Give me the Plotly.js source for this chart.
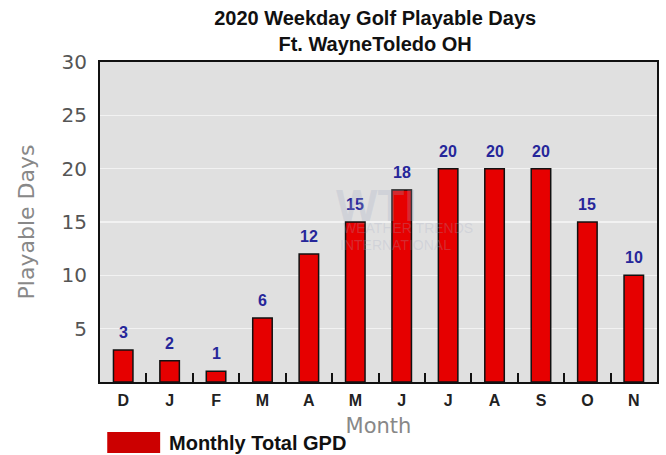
<!DOCTYPE html>
<html>
<head>
<meta charset="utf-8">
<script src="https://cdn.plot.ly/plotly-3.0.1.min.js"></script>
<style>html,body{margin:0;padding:0;background:#fff;}#chart{width:666px;height:455px;}</style>
</head>
<body>
<div id="chart"></div>
<script>
const months = ['Dec','Jan','Feb','Mar','Apr','May','Jun','Jul','Aug','Sep','Oct','Nov'];
const monthLabels = ['D','J','F','M','A','M','J','J','A','S','O','N'];
const playableDays = [3, 2, 1, 6, 12, 15, 18, 20, 20, 20, 15, 10];
const yTicks = [5, 10, 15, 20, 25, 30];
const seriesName = 'Monthly Total GPD';

const trace = {
  type: 'bar',
  x: months,
  y: playableDays,
  name: seriesName,
  width: 0.42,
  marker: {color: '#e60000', line: {color: '#111', width: 1.5}},
  hoverinfo: 'x+y',
  showlegend: false
};

const valueLabels = months.map((m, i) => ({
  x: m, y: playableDays[i], xref: 'x', yref: 'y',
  text: '<b>' + playableDays[i] + '</b>', showarrow: false,
  yanchor: 'bottom', yshift: 7,
  font: {family: 'Liberation Sans, Arial, sans-serif', size: 16, color: '#26269a'}
}));

const wmColor = 'rgba(160,170,195,0.25)';

const layout = {
  width: 666, height: 455,
  margin: {l: 100, r: 9, t: 62, b: 73},
  paper_bgcolor: '#ffffff',
  plot_bgcolor: '#e0e0e0',
  title: {
    text: '<b>2020 Weekday Golf Playable Days<br>Ft. WayneToledo OH</b>',
    font: {family: 'Liberation Sans, Arial, sans-serif', size: 20, color: '#111'},
    x: 0.494, xanchor: 'center', xref: 'paper',
    y: 0.945, yanchor: 'top', yref: 'container'
  },
  xaxis: {
    type: 'category',
    tickvals: months,
    ticktext: monthLabels.map(t => '<b>' + t + '</b>'),
    tickfont: {family: 'Liberation Sans, Arial, sans-serif', size: 16, color: '#222'},
    ticks: 'inside', tickson: 'boundaries', ticklen: 9, tickwidth: 2, tickcolor: '#111',
    showline: true, linecolor: '#111', linewidth: 2, mirror: true,
    showgrid: false, zeroline: false,
    ticklabelstandoff: 3,
    title: {text: 'Month', font: {family: 'DejaVu Sans, sans-serif', size: 21, color: '#888'}, standoff: 10}
  },
  yaxis: {
    range: [0, 30],
    tickvals: yTicks,
    tickfont: {family: 'DejaVu Sans, sans-serif', size: 20, color: '#555'},
    ticks: '', ticklabelstandoff: 7,
    showgrid: true, gridcolor: '#f2f2f2', gridwidth: 1.5,
    showline: true, linecolor: '#111', linewidth: 2, mirror: true,
    zeroline: false,
    title: {text: 'Playable Days', font: {family: 'DejaVu Sans, sans-serif', size: 22, color: '#888'}, standoff: 21}
  },
  shapes: [
    {type: 'rect', xref: 'paper', yref: 'paper', x0: 0.013, x1: 0.108, y0: -0.156, y1: -0.222,
     fillcolor: '#cc0000', line: {width: 0}}
  ],
  annotations: valueLabels.concat([
    {xref: 'paper', yref: 'paper', x: 0.12, y: -0.19, xanchor: 'left', yanchor: 'middle',
     text: '<b>' + seriesName + '</b>', showarrow: false,
     font: {family: 'Liberation Sans, Arial, sans-serif', size: 20, color: '#111'}},
    {xref: 'paper', yref: 'paper', x: 0.496, y: 0.553, text: '<b>WTI</b>', showarrow: false,
     font: {family: 'Liberation Sans, Arial, sans-serif', size: 44, color: wmColor}},
    {xref: 'paper', yref: 'paper', x: 0.553, y: 0.481, text: 'WEATHER TRENDS', showarrow: false,
     font: {family: 'Liberation Sans, Arial, sans-serif', size: 14, color: wmColor}},
    {xref: 'paper', yref: 'paper', x: 0.53, y: 0.428, text: 'INTERNATIONAL', showarrow: false,
     font: {family: 'Liberation Sans, Arial, sans-serif', size: 14, color: wmColor}}
  ])
};

Plotly.newPlot('chart', [trace], layout, {displayModeBar: false, staticPlot: true});
</script>
</body>
</html>
